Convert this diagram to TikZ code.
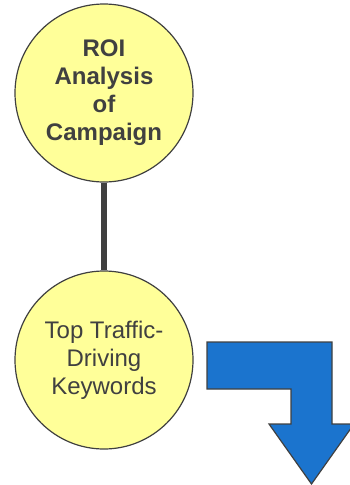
\documentclass[tikz,border=0pt]{standalone}
\usepackage{fontspec}
\setmainfont{Liberation Sans}
\usetikzlibrary{positioning}
\definecolor{bubble}{HTML}{FFFF99}
\definecolor{edge}{HTML}{404040}
\definecolor{turnblue}{HTML}{1B74CE}

\begin{document}
\begin{tikzpicture}[x=1pt, y=1pt, every node/.style={font=\fontsize{24}{28}\selectfont, text=edge}]
        \useasboundingbox (0,0) rectangle (350,-485);
        \tikzset{bubble/.style={circle, draw=edge, line width=1.2pt, fill=bubble, minimum size=178pt, inner sep=0pt, align=center}}

        % Campaign circle
        \node[bubble, font=\fontsize{24}{28}\selectfont\bfseries] (roi) at (104,-93) {ROI\\Analysis\\of\\Campaign};

        % Keyword circle
        \node[bubble] (kw) at (104,-360) {Top Traffic-\\Driving\\Keywords};

        % Link between the two
        \draw[edge, line width=6pt] (roi.south) -- (kw.north);

        % Bent arrow pointing down
        \draw[fill=turnblue, draw=edge, line width=1.2pt] (207,-342) -- (332,-342) -- (332,-424) -- (354,-424) -- (311.5,-484) -- (269,-424) -- (291,-424) -- (291,-389) -- (207,-389) -- cycle;
    \end{tikzpicture}
\end{document}
